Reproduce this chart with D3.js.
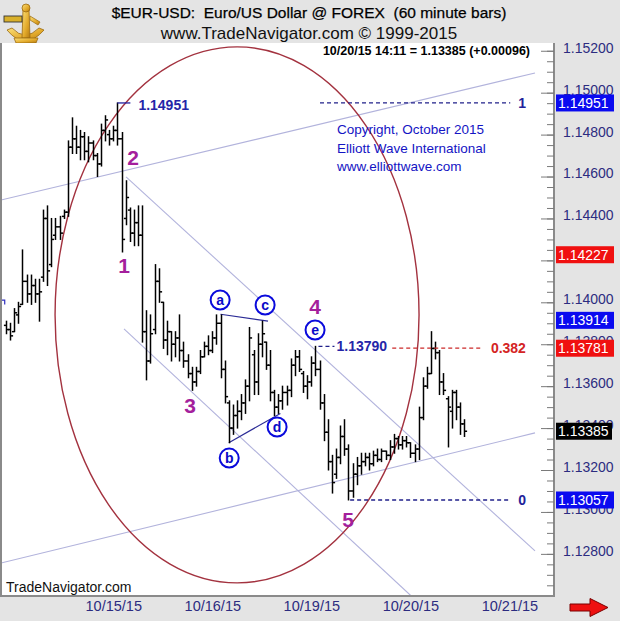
<!DOCTYPE html>
<html><head><meta charset="utf-8">
<script src="https://cdn.jsdelivr.net/npm/d3@7"></script>
<style>
body{margin:0;background:#e4e4e4;}
svg{display:block;font-family:"Liberation Sans",Arial,sans-serif;}
</style>
</head><body>
<svg id="chart" width="620" height="621"></svg>
<script>
// ---------- DATA (hourly bars, slot index = bar number) ----------
const opens = [1.1389,1.1387,1.1386,1.1394,1.1399,1.1410,1.1404,1.1408,1.1404,1.1412,
1.1440,1.1418,1.1432,1.1436,1.1441,1.1443,1.1474,1.1478,1.1474,1.1479,
1.1472,1.1476,1.1470,1.1466,1.1482,1.1480,1.1478,1.1482,1.1478,1.1440,
1.1444,1.1433,1.1438,1.1432,1.1386,1.1372,1.1387,1.1410,1.1400,1.1382,
1.1386,1.1380,1.1383,1.1377,1.1372,1.1366,1.1362,1.1367,1.1374,1.1379,
1.1377,1.1383,1.1390,1.1368,1.1352,1.1340,1.1346,1.1348,1.1352,1.1360,
1.1375,1.1362,1.1380,1.1381,1.1370,1.1357,1.1350,1.1353,1.1357,1.1358,
1.1370,1.1374,1.1366,1.1360,1.1362,1.1371,1.1368,1.1352,1.1338,1.1324,
1.1318,1.1326,1.1336,1.1330,1.1310,1.1318,1.1322,1.1324,1.1326,1.1323,
1.1327,1.1325,1.1329,1.1327,1.1331,1.1335,1.1332,1.1334,1.1333,1.1328,
1.1330,1.1345,1.1360,1.1366,1.1378,1.1376,1.1362,1.1354,1.1348,1.1357,
1.1350,1.1342];
const highs = [1.1391,1.1390,1.1397,1.1400,1.1425,1.1413,1.1413,1.1411,1.1411,1.1444,
1.1446,1.1440,1.1440,1.1441,1.1444,1.1477,1.1488,1.1484,1.1482,1.1481,
1.1479,1.1477,1.1471,1.1485,1.1489,1.1482,1.1484,1.14951,1.1481,1.1458,
1.1445,1.1444,1.1446,1.1446,1.1396,1.1394,1.1418,1.1416,1.1400,1.1391,
1.1386,1.1386,1.1394,1.1381,1.1375,1.1369,1.1369,1.1377,1.1381,1.1384,
1.1386,1.1394,1.1394,1.1372,1.1353,1.1351,1.1353,1.1356,1.1363,1.1388,
1.1377,1.1385,1.1391,1.1381,1.1377,1.1358,1.1356,1.1360,1.1360,1.1373,
1.1377,1.1377,1.1367,1.1365,1.1374,1.1379,1.1372,1.1356,1.1344,1.1327,
1.1330,1.1341,1.1344,1.1332,1.1323,1.1326,1.1328,1.1328,1.1328,1.1329,
1.1330,1.1330,1.1329,1.1334,1.1337,1.1336,1.1336,1.1336,1.1333,1.1332,
1.1350,1.1364,1.1369,1.1386,1.1381,1.1377,1.1366,1.1355,1.1358,1.1358,
1.1352,1.1344];
const lows = [1.1385,1.1382,1.1386,1.1390,1.1399,1.1400,1.1399,1.1400,1.1391,1.1410,
1.1408,1.1417,1.1430,1.1430,1.1440,1.1441,1.1471,1.1471,1.1468,1.1468,
1.1467,1.1468,1.1460,1.1465,1.1477,1.1475,1.1477,1.1475,1.1424,1.1437,
1.1429,1.1427,1.1427,1.1381,1.1363,1.1371,1.1385,1.1400,1.1378,1.1375,
1.1372,1.1374,1.1372,1.1369,1.1364,1.1358,1.1360,1.1366,1.1374,1.1375,
1.1376,1.1380,1.1364,1.1352,1.1333,1.1337,1.1340,1.1344,1.1347,1.1353,
1.1356,1.1356,1.1374,1.1368,1.1353,1.1346,1.1347,1.1349,1.1351,1.1355,
1.1365,1.1367,1.1357,1.1354,1.1360,1.1365,1.1349,1.1334,1.1320,1.1309,
1.1316,1.1323,1.1327,1.13057,1.1307,1.1313,1.1318,1.1322,1.1320,1.1322,
1.1324,1.1324,1.1325,1.1325,1.1328,1.1330,1.1330,1.1331,1.1326,1.1324,
1.1325,1.1344,1.1359,1.1366,1.1373,1.1356,1.1356,1.1331,1.1340,1.1344,
1.1337,1.1336];
const closes = [1.1387,1.1384,1.1395,1.1398,1.1410,1.1404,1.1408,1.1404,1.1405,1.1440,
1.1415,1.1430,1.1436,1.1433,1.1443,1.1474,1.1478,1.1474,1.1479,1.1472,
1.1476,1.1470,1.1466,1.1482,1.1487,1.1478,1.1482,1.1478,1.1430,1.1450,
1.1433,1.1438,1.1432,1.1386,1.1372,1.1385,1.1410,1.1405,1.1382,1.1386,
1.1380,1.1383,1.1377,1.1372,1.1366,1.1362,1.1367,1.1374,1.1379,1.1377,
1.1383,1.1390,1.1368,1.1355,1.1340,1.1346,1.1348,1.1352,1.1360,1.1383,
1.1362,1.1380,1.1385,1.1370,1.1357,1.1350,1.1353,1.1357,1.1358,1.1370,
1.1374,1.1368,1.1360,1.1362,1.1371,1.1368,1.1352,1.1338,1.1324,1.1314,
1.1326,1.1336,1.1330,1.1310,1.1318,1.1322,1.1324,1.1326,1.1323,1.1327,
1.1325,1.1329,1.1327,1.1331,1.1335,1.1332,1.1334,1.1333,1.1328,1.1330,
1.1345,1.1360,1.1366,1.1378,1.1376,1.1362,1.1358,1.1350,1.1357,1.1350,
1.1342,1.13385];

const xTickLabels = ["10/15/15","10/16/15","10/19/15","10/20/15","10/21/15"];
const xTickSlots  = [26, 50, 74, 98, 122];
const yTickValues = [1.152,1.150,1.148,1.146,1.144,1.142,1.140,1.138,1.136,1.134,1.132,1.130,1.128];

const tagValues = [1.14951, 1.14227, 1.13914, 1.13781, 1.13385, 1.13057];
const tagKinds  = ["blue","red","blue","red","black","blue"];

const fibNames  = ["1", "0.382", "0"];
const fibValues = [1.14951, 1.13781, 1.13057];
const fibFrom   = [76.1, 93.6, 83.4];
const fibTo     = [122.2, 115.6, 122.2];
const fibLabelSlot = 126;

const waveNames  = ["1","2","3","4","5"];
const waveSlots  = [28.6, 30.8, 44.6, 74.9, 82.9];
const wavePrices = [1.14178, 1.14693, 1.13510, 1.13978, 1.12962];

const subNames  = ["a","b","c","d","e"];
const subSlots  = [51.9, 54.1, 62.8, 65.7, 74.9];
const subPrices = [1.14011, 1.13257, 1.13987, 1.13405, 1.13868];

// channel lines: [slot0, price0, slot1, price1]
const channelLines = [
  [-1.2, 1.14488, 128.2, 1.15094],
  [-1.2, 1.12756, 128.2, 1.13377],
  [29.1, 1.14598, 128.2, 1.12814],
  [28.6, 1.13873, 98.2, 1.12599]
];
const triangleLines = [
  [52, 1.13943, 63.5, 1.13910],
  [54, 1.13330, 66.5, 1.13470]
];
const ellipseCenter = [56, 1.13940];
const ellipseHalf   = [44.1, 0.012786];

const peakSlot = 27, peakValue = 1.14951;
const eSlot = 75, eValue = 1.13790;

// ---------- CHART ----------
const svg = d3.select("#chart");
const L = 1, R = 554, T = 43, B = 596;
const x = d3.scaleLinear().domain([-1.2, 132.8]).range([L, R]);
const y = d3.scaleLinear().domain([1.12599, 1.15237]).range([B, T]);
const fmt = d3.format(".5f");

// title
svg.append("text").attr("x", 309).attr("y", 18).attr("text-anchor","middle")
  .style("white-space","pre").attr("font-size", 15.5).attr("fill","#000")
  .attr("stroke","#000").attr("stroke-width",0.25)
  .text("$EUR-USD:  Euro/US Dollar @ FOREX  (60 minute bars)");
svg.append("text").attr("x", 309).attr("y", 39).attr("text-anchor","middle")
  .attr("font-size", 17).attr("fill","#111")
  .text("www.TradeNavigator.com \u00A9 1999-2015");

// logo (sextant)
const logo = svg.append("g").attr("transform","translate(2,2)");
const grad = svg.append("defs").append("linearGradient").attr("id","gold")
  .attr("x1","0").attr("y1","0").attr("x2","1").attr("y2","1");
grad.append("stop").attr("offset","0").attr("stop-color","#fbe07a");
grad.append("stop").attr("offset","0.6").attr("stop-color","#e2a92a");
grad.append("stop").attr("offset","1").attr("stop-color","#b37a12");
logo.append("path").attr("d","M5,28 Q23,50 42,28 L37,26 Q23,40 10,26 Z").attr("fill","url(#gold)").attr("stroke","#9a6a10").attr("stroke-width",0.8);
logo.append("path").attr("d","M21,7 L27,7 L28,36 L20,36 Z").attr("fill","url(#gold)").attr("stroke","#9a6a10").attr("stroke-width",0.8);
logo.append("circle").attr("cx",24).attr("cy",6).attr("r",4).attr("fill","url(#gold)").attr("stroke","#9a6a10").attr("stroke-width",0.8);
logo.append("rect").attr("x",2).attr("y",14).attr("width",18).attr("height",6).attr("fill","#d9b02a").attr("stroke","#333").attr("stroke-width",0.9);
logo.append("path").attr("d","M12,36 L36,36 L34,41 L14,41 Z").attr("fill","url(#gold)").attr("stroke","#9a6a10").attr("stroke-width",0.8);
logo.append("path").attr("d","M28,14 L38,20 L36,23 L28,18 Z").attr("fill","url(#gold)").attr("stroke","#9a6a10").attr("stroke-width",0.7);

// plot area
svg.append("rect").attr("x",L).attr("y",T).attr("width",R-L).attr("height",B-T)
  .attr("fill","#fff");
svg.append("defs").append("clipPath").attr("id","clip")
  .append("rect").attr("x",L).attr("y",T).attr("width",R-L).attr("height",B-T);
const plot = svg.append("g").attr("clip-path","url(#clip)");

// channel lines
plot.selectAll("line.ch").data(channelLines).join("line").attr("class","ch")
  .attr("x1",d=>x(d[0])).attr("y1",d=>y(d[1])).attr("x2",d=>x(d[2])).attr("y2",d=>y(d[3]))
  .attr("stroke","#b2b3dc").attr("stroke-width",1.1);

// ellipse
plot.append("ellipse")
  .attr("cx", x(ellipseCenter[0])).attr("cy", y(ellipseCenter[1]))
  .attr("rx", x(ellipseCenter[0]+ellipseHalf[0]) - x(ellipseCenter[0]))
  .attr("ry", y(ellipseCenter[1]-ellipseHalf[1]) - y(ellipseCenter[1]))
  .attr("fill","none").attr("stroke","#a3323f").attr("stroke-width",1.4);

// triangle lines
plot.selectAll("line.tri").data(triangleLines).join("line").attr("class","tri")
  .attr("x1",d=>x(d[0])).attr("y1",d=>y(d[1])).attr("x2",d=>x(d[2])).attr("y2",d=>y(d[3]))
  .attr("stroke","#2b2b96").attr("stroke-width",1.2);

// small marker at left edge
plot.append("path").attr("d",`M${x(-1.2)},${y(1.1401)} H${x(-0.3)} V${y(1.1399)}`)
  .attr("fill","none").attr("stroke","#2f2fc0").attr("stroke-width",1.2);

// OHLC bars
const bars = plot.append("g").attr("stroke","#000").attr("stroke-width",1.5).attr("fill","none");
highs.forEach((h,i)=>{
  const cx = Math.round(x(i)) + 0.5;
  bars.append("line").attr("x1",cx).attr("x2",cx).attr("y1",y(h)-0.5).attr("y2",y(lows[i])+0.5);
  bars.append("line").attr("x1",cx-2.6).attr("x2",cx).attr("y1",y(opens[i])).attr("y2",y(opens[i]));
  bars.append("line").attr("x1",cx).attr("x2",cx+2.6).attr("y1",y(closes[i])).attr("y2",y(closes[i]));
});

// Fibonacci dashed levels
const navy = "#2525a8";
fibValues.forEach((v,i)=>{
  const col = fibNames[i]==="0.382" ? "#cc2a2a" : "#20208a";
  plot.append("line").attr("x1",x(fibFrom[i])).attr("x2",x(fibTo[i]))
    .attr("y1",y(v)).attr("y2",y(v)).attr("stroke",col).attr("stroke-width",1.3)
    .attr("stroke-dasharray","4,3");
  svg.append("text").attr("x", x(fibLabelSlot)).attr("y", y(v)).attr("dy","0.36em")
    .attr("text-anchor","end").attr("font-size",14).attr("font-weight","bold")
    .attr("fill", fibNames[i]==="0.382" ? "#d42424" : "#22229a").text(fibNames[i]);
});

// peak bracket label
plot.append("line").attr("x1",x(peakSlot)).attr("x2",x(peakSlot)+13)
  .attr("y1",y(peakValue)).attr("y2",y(peakValue)).attr("stroke","#2020a0").attr("stroke-width",1.3);
svg.append("text").attr("x",x(peakSlot)+21).attr("y",y(peakValue)+2).attr("dy","0.36em")
  .attr("font-size",14).attr("font-weight","bold").attr("fill",navy).text(fmt(peakValue));

// e label
plot.append("line").attr("x1",x(eSlot)+3).attr("x2",x(eSlot)+19)
  .attr("y1",y(eValue)).attr("y2",y(eValue)).attr("stroke","#20208a").attr("stroke-width",1.3)
  .attr("stroke-dasharray","4,3");
svg.append("text").attr("x",x(eSlot)+21).attr("y",y(eValue)).attr("dy","0.36em")
  .attr("font-size",14).attr("font-weight","bold").attr("fill",navy).text(fmt(eValue));

// wave labels
svg.selectAll("text.wave").data(waveNames).join("text").attr("class","wave")
  .attr("x",(d,i)=>x(waveSlots[i])).attr("y",(d,i)=>y(wavePrices[i])).attr("dy","0.36em")
  .attr("text-anchor","middle").attr("font-size",21).attr("font-weight","bold")
  .attr("fill","#a41f9c").text(d=>d);

// circled sub-wave labels
const sub = svg.selectAll("g.sub").data(subNames).join("g").attr("class","sub")
  .attr("transform",(d,i)=>`translate(${x(subSlots[i])},${y(subPrices[i])})`);
sub.append("circle").attr("r",9.5).attr("fill","#fff").attr("stroke","#0a0adc").attr("stroke-width",2);
sub.append("text").attr("text-anchor","middle").attr("dy","0.33em").attr("font-size",14)
  .attr("font-weight","bold").attr("fill","#0a0ac8").text(d=>d);

// copyright
["Copyright, October 2015","Elliott Wave International","www.elliottwave.com"].forEach((t,i)=>{
  svg.append("text").attr("x",337).attr("y",134 + i*18.5).attr("font-size",13.5)
    .attr("fill","#1414c4").text(t);
});

// last update line
svg.append("text").attr("x",530).attr("y",55).attr("text-anchor","end")
  .attr("font-size",12.5).attr("font-weight","bold").attr("fill","#000")
  .text("10/20/15 14:11 = 1.13385 (+0.00096)");

svg.append("text").attr("x",6).attr("y",592).attr("font-size",14).attr("fill","#111")
  .text("TradeNavigator.com");

// border
svg.append("path").attr("d",`M${L},${T} V${B} H${R} V${T}`).attr("fill","none")
  .attr("stroke","#8a8a8a").attr("stroke-width",2);

// right axis
const minor = d3.range(1.1265, 1.15201, 0.0005);
const yMinor = svg.append("g").attr("transform",`translate(${R},0)`)
  .call(d3.axisRight(y).tickValues(minor).tickSize(-7).tickFormat(""));
yMinor.select(".domain").remove();
yMinor.selectAll("line").attr("stroke","#7a7a7a");
const yAx = svg.append("g").attr("transform",`translate(${R},0)`)
  .call(d3.axisRight(y).tickValues(yTickValues).tickSize(-13).tickPadding(9).tickFormat(fmt));
yAx.select(".domain").remove();
yAx.selectAll("line").attr("stroke","#7a7a7a");
yAx.selectAll("text").attr("font-size",14).attr("fill","#2c2c80")
  .attr("font-family","Liberation Sans, Arial, sans-serif").attr("dy","0.1em");

// price tags
const tagFill = {blue:"#0a0af0", red:"#f01010", black:"#000"};
tagValues.forEach((v,i)=>{
  const g = svg.append("g").attr("transform",`translate(${R+2},${y(v)})`);
  g.append("rect").attr("x",0).attr("y",-8.5).attr("width", tagKinds[i]==="black"?56:58).attr("height",17)
    .attr("fill", tagFill[tagKinds[i]]);
  g.append("text").attr("x",2).attr("dy","0.36em").attr("font-size",14).attr("fill","#fff").text(fmt(v));
});

// bottom axis
const xAx = svg.append("g").attr("transform",`translate(0,${B})`)
  .call(d3.axisBottom(x).tickValues(xTickSlots).tickSize(0).tickPadding(5)
    .tickFormat((d,i)=>xTickLabels[i]));
xAx.select(".domain").remove();
xAx.selectAll("text").attr("font-size",14.5).attr("fill","#2c2c80")
  .attr("font-family","Liberation Sans, Arial, sans-serif");

// red arrow
svg.append("path").attr("d","M570,604 H590 V598.5 L608,607.5 L590,616.5 V611 H570 Z")
  .attr("fill","#ee1111").attr("stroke","#7a0000").attr("stroke-width",1);
</script>
</body></html>
